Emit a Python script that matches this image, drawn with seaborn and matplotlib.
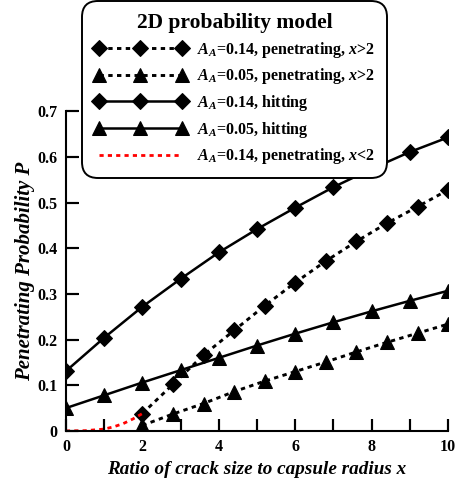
import matplotlib
matplotlib.use('Agg')
import matplotlib.pyplot as plt
import seaborn as sns

# data
x_hit = [0, 1, 2, 3, 4, 5, 6, 7, 8, 9, 10]
hit_014 = [0.131, 0.204, 0.272, 0.333, 0.391, 0.442, 0.489, 0.534, 0.574, 0.611, 0.643]
hit_005 = [0.050, 0.078, 0.106, 0.133, 0.160, 0.187, 0.213, 0.238, 0.262, 0.285, 0.307]

x_pen = [2, 2.8, 3.6, 4.4, 5.2, 6.0, 6.8, 7.6, 8.4, 9.2, 10]
pen_014 = [0.038, 0.102, 0.166, 0.220, 0.274, 0.325, 0.372, 0.415, 0.455, 0.491, 0.528]
pen_005 = [0.012, 0.037, 0.060, 0.086, 0.109, 0.130, 0.151, 0.173, 0.194, 0.214, 0.234]

x_low = [0, 0.5, 1.0, 1.25, 1.5, 1.75, 2.0]
pen_low = [0.0, 0.0005, 0.004, 0.009, 0.016, 0.026, 0.038]

x_ticks = list(range(11))
x_ticklabels = [str(i) if i % 2 == 0 else '' for i in x_ticks]
y_ticks = [0, 0.1, 0.2, 0.3, 0.4, 0.5, 0.6, 0.7]
y_ticklabels = ['0', '0.1', '0.2', '0.3', '0.4', '0.5', '0.6', '0.7']

sns.set_style('ticks', {'xtick.direction': 'in', 'ytick.direction': 'in',
                        'xtick.color': 'black', 'ytick.color': 'black',
                        'axes.edgecolor': 'black', 'text.color': 'black',
                        'axes.labelcolor': 'black', 'axes.axisbelow': False})
plt.rcParams['font.family'] = ['Liberation Serif', 'DejaVu Serif']
plt.rcParams['font.weight'] = 'bold'
plt.rcParams['xtick.major.size'] = 9
plt.rcParams['ytick.major.size'] = 9
plt.rcParams['xtick.major.width'] = 1.5
plt.rcParams['ytick.major.width'] = 1.5
plt.rcParams['xtick.major.pad'] = 6
plt.rcParams['ytick.major.pad'] = 6
plt.rcParams['mathtext.fontset'] = 'custom'
plt.rcParams['mathtext.it'] = 'Liberation Serif:italic:bold'
plt.rcParams['mathtext.rm'] = 'Liberation Serif:bold'

fig = plt.figure(figsize=(4.61, 4.82), dpi=100)
ax = fig.add_axes([0.143, 0.106, 0.829, 0.663])

dot = (0, (1.5, 1.5))
sns.lineplot(x=x_pen, y=pen_014, ax=ax, color='black', linestyle=dot, lw=2.1,
             marker='D', markersize=8.5, markeredgecolor='black', legend=False,
             label='$A_A$=0.14, penetrating, $x$>2')
sns.lineplot(x=x_pen, y=pen_005, ax=ax, color='black', linestyle=dot, lw=2.1,
             marker='^', markersize=10, markeredgecolor='black', legend=False,
             label='$A_A$=0.05, penetrating, $x$>2')
sns.lineplot(x=x_hit, y=hit_014, ax=ax, color='black', lw=1.8,
             marker='D', markersize=8.5, markeredgecolor='black', legend=False,
             label='$A_A$=0.14, hitting')
sns.lineplot(x=x_hit, y=hit_005, ax=ax, color='black', lw=1.8,
             marker='^', markersize=10, markeredgecolor='black', legend=False,
             label='$A_A$=0.05, hitting')
sns.lineplot(x=x_low, y=pen_low, ax=ax, color='red', linestyle=dot, lw=2.0,
             legend=False, label='$A_A$=0.14, penetrating, $x$<2')

ax.set_xlim(0, 10)
ax.set_ylim(0, 0.7)
ax.set_xticks(x_ticks)
ax.set_xticklabels(x_ticklabels)
ax.set_yticks(y_ticks)
ax.set_yticklabels(y_ticklabels)
ax.tick_params(bottom=True, left=True, direction='in', length=9, width=1.5,
               color='black', labelsize=11.5)
ax.set_axisbelow(False)

# inward tick marks, also drawn as short segments on the axis transforms
# (lengths are 12 px expressed as axes fractions)
ax.vlines(ax.get_xticks(), 0, 12 / (0.663 * 482), transform=ax.get_xaxis_transform(),
          colors='black', linewidth=1.5, zorder=3, clip_on=False)
ax.hlines(ax.get_yticks(), 0, 12 / (0.829 * 461), transform=ax.get_yaxis_transform(),
          colors='black', linewidth=1.5, zorder=3, clip_on=False)

for s in ['top', 'right']:
    ax.spines[s].set_visible(False)
for s in ['left', 'bottom']:
    ax.spines[s].set_linewidth(1.5)

ax.set_xlabel('Ratio of crack size to capsule radius x', fontsize=13.8,
              fontstyle='italic', fontweight='bold', labelpad=4)
ax.set_ylabel('Penetrating Probability P', fontsize=15,
              fontstyle='italic', fontweight='bold', labelpad=2)

leg = ax.legend(loc='upper left', bbox_to_anchor=(0.178, 0.998),
                bbox_transform=fig.transFigure,
                title='2D probability model', fontsize=11.5, handlelength=5.8,
                numpoints=3, labelspacing=0.42, handletextpad=0.65,
                borderpad=0.75, borderaxespad=0, framealpha=1,
                edgecolor='black', fancybox=True)
leg.get_title().set_fontsize(15.5)
leg.get_title().set_fontweight('bold')
leg.set_zorder(5)
frame = leg.get_frame()
frame.set_linewidth(1.4)
frame.set_boxstyle('round', pad=0, rounding_size=1.0)

fig.savefig('out.png', dpi=100)
